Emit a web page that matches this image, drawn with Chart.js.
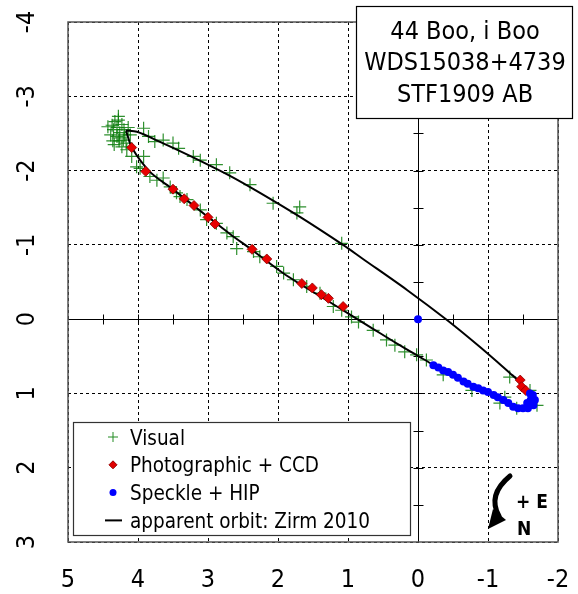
<!DOCTYPE html>
<html>
<head>
<meta charset="utf-8">
<title>44 Boo, i Boo - STF1909 AB</title>
<script src="https://cdn.jsdelivr.net/npm/chart.js@4.4.0/dist/chart.umd.min.js"></script>
<style>
  html, body { margin: 0; padding: 0; background: #fff; }
</style>
</head>
<body>
<canvas id="orbitChart" width="578" height="594"></canvas>
<script>
const visualPts = [
  [4.33,-2.66],[4.28,-2.68],[4.35,-2.55],[4.26,-2.51],[4.30,-2.46],[4.21,-2.41],[4.23,-2.32],[4.16,-2.28],
  [4.09,-2.19],[3.92,-2.19],[4.02,-2.05],[4.37,-2.61],[4.30,-2.58],[4.23,-2.62],[4.19,-2.48],[4.27,-2.40],
  [4.34,-2.35],[4.14,-2.58],[4.43,-2.59],[4.39,-2.48],[4.20,-2.55],[4.27,-2.44],[4.17,-2.37],[4.36,-2.40],
  [4.11,-2.48],[4.28,-2.73],
  [3.92,-2.57],[3.85,-2.46],[3.76,-2.39],[3.64,-2.41],[3.50,-2.37],[3.42,-2.30],[3.21,-2.19],[3.11,-2.14],
  [2.88,-2.08],[2.69,-1.97],[2.40,-1.81],[2.07,-1.56],[1.73,-1.43],[1.69,-1.51],[1.09,-1.02],
  [3.97,-2.03],[3.83,-1.92],[3.73,-1.87],[3.64,-1.90],[3.54,-1.78],[3.45,-1.70],[3.40,-1.65],[3.30,-1.61],
  [3.11,-1.47],[3.02,-1.34],[2.88,-1.29],[2.73,-1.16],[2.64,-1.11],[2.59,-0.95],[2.35,-0.91],[2.26,-0.84],
  [2.02,-0.71],[1.92,-0.62],[1.78,-0.53],[1.59,-0.44],[1.40,-0.35],[1.21,-0.17],[1.09,-0.12],[0.95,-0.03],
  [0.85,0.04],[0.64,0.15],[0.45,0.28],[0.33,0.35],[0.19,0.44],[0.02,0.48],[-0.12,0.55],
  [-0.36,0.75],[-0.77,0.96],[-1.17,1.13],[-1.31,0.78],[-1.24,1.05],[-1.41,1.20],[-1.60,0.96],[-1.70,1.16]
];
const photoPts = [
  [4.09,-2.31],[3.89,-1.99],[3.50,-1.75],[3.34,-1.62],[3.20,-1.53],[3.00,-1.37],[2.90,-1.28],[2.37,-0.94],
  [2.16,-0.81],[1.66,-0.48],[1.51,-0.42],[1.38,-0.33],[1.28,-0.28],[1.07,-0.17],
  [-1.46,0.82],[-1.48,0.91],[-1.54,0.96]
];
const specklePts = [
  [0.00,0.00],
  [-0.22,0.62],[-0.29,0.65],[-0.36,0.69],[-0.43,0.71],[-0.50,0.75],[-0.57,0.79],[-0.65,0.84],[-0.71,0.87],
  [-0.79,0.91],[-0.86,0.93],[-0.93,0.96],[-1.00,0.98],[-1.08,1.02],[-1.14,1.05],[-1.22,1.09],[-1.29,1.13],
  [-1.36,1.18],[-1.43,1.20],[-1.50,1.20],[-1.57,1.20],[-1.65,1.16],[-1.67,1.09],[-1.64,1.02],[-1.60,1.00],
  [-1.61,1.09],[-1.56,1.13]
];
// apparent orbit (Zirm 2010), traced around the ellipse from the north-east end
const orbitPts = [
  [4.171,-2.539],[4.014,-2.522],[3.686,-2.387],[3.257,-2.198],[2.686,-1.929],[2.257,-1.700],[1.686,-1.376],
  [1.071,-0.999],[0.786,-0.810],[0.157,-0.393],[-0.414,0.012],[-0.886,0.376],[-1.314,0.727],[-1.457,0.849],
  [-1.557,0.984],[-1.614,1.105],[-1.557,1.191],[-1.429,1.218],[-1.286,1.144],[-1.071,1.023],[-0.786,0.902],
  [-0.500,0.753],[-0.214,0.612],[-0.029,0.511],[0.300,0.329],[0.614,0.147],[0.971,-0.062],[1.286,-0.244],
  [1.686,-0.473],[1.929,-0.621],[2.371,-0.931],[2.686,-1.147],[3.000,-1.376],[3.500,-1.747],[3.829,-1.983],
  [4.086,-2.306],[4.171,-2.539]
];
const xTicks = [5, 4, 3, 2, 1, 0, -1, -2];
const yTicks = [-4, -3, -2, -1, 0, 1, 2, 3];
const titleLines = ['44 Boo, i Boo', 'WDS15038+4739', 'STF1909 AB'];
const legendLabels = ['Visual', 'Photographic + CCD', 'Speckle + HIP', 'apparent orbit: Zirm 2010'];

const FONT = "'DejaVu Sans Condensed', 'DejaVu Sans', sans-serif";
const toXY = pts => pts.map(p => ({ x: p[0], y: p[1] }));

// zero axes with half-unit ticks, frame, title box, legend, direction arrow
const axesPlugin = {
  id: 'zeroAxes',
  beforeDatasetsDraw(chart) {
    const { ctx, chartArea: a, scales: { x, y } } = chart;
    const x0 = Math.round(x.getPixelForValue(0)) + 0.5;
    const y0 = Math.round(y.getPixelForValue(0)) + 0.5;
    ctx.save();
    ctx.strokeStyle = '#000';
    ctx.lineWidth = 1;
    ctx.setLineDash([]);
    ctx.beginPath();
    ctx.moveTo(a.left, y0); ctx.lineTo(a.right, y0);
    ctx.moveTo(x0, a.top); ctx.lineTo(x0, a.bottom);
    for (let k = xTicks[xTicks.length - 1] * 2 + 1; k < xTicks[0] * 2; k++) {
      const px = Math.round(x.getPixelForValue(k / 2)) + 0.5;
      ctx.moveTo(px, y0 - 5); ctx.lineTo(px, y0 + 5);
    }
    for (let k = yTicks[0] * 2 + 1; k < yTicks[yTicks.length - 1] * 2; k++) {
      const py = Math.round(y.getPixelForValue(k / 2)) + 0.5;
      ctx.moveTo(x0 - 5, py); ctx.lineTo(x0 + 5, py);
    }
    ctx.stroke();
    ctx.restore();
  },
  afterDraw(chart) {
    const { ctx, chartArea: a } = chart;
    ctx.save();
    ctx.strokeStyle = '#555';
    ctx.lineWidth = 1.5;
    ctx.strokeRect(a.left, a.top, a.right - a.left, a.bottom - a.top);

    // title box
    ctx.fillStyle = '#fff';
    ctx.fillRect(356, 6, 217, 113);
    ctx.strokeStyle = '#000';
    ctx.lineWidth = 1.2;
    ctx.strokeRect(356.5, 6.5, 216, 112);
    ctx.fillStyle = '#000';
    ctx.font = '25px ' + FONT;
    ctx.textAlign = 'center';
    ctx.textBaseline = 'alphabetic';
    titleLines.forEach((t, i) => ctx.fillText(t, 465, 38.5 + i * 31.7));

    // legend box
    const lx = a.left + 5, ly = a.bottom - 120;
    ctx.fillStyle = '#fff';
    ctx.fillRect(lx, ly, 337, 114);
    ctx.strokeStyle = '#333';
    ctx.lineWidth = 1.2;
    ctx.strokeRect(lx + 0.5, ly + 0.5, 337, 113);
    ctx.font = '20.5px ' + FONT;
    ctx.textAlign = 'left';
    const mx = lx + 40;
    legendLabels.forEach((t, i) => {
      const cy = ly + 15 + i * 27.8;
      ctx.fillStyle = '#000';
      ctx.fillText(t, lx + 57, cy + 7.5);
      if (i === 0) {
        ctx.strokeStyle = '#228B22'; ctx.lineWidth = 1;
        ctx.beginPath();
        ctx.moveTo(mx - 5, cy); ctx.lineTo(mx + 5, cy);
        ctx.moveTo(mx, cy - 5); ctx.lineTo(mx, cy + 5);
        ctx.stroke();
      } else if (i === 1) {
        ctx.fillStyle = '#e00000'; ctx.strokeStyle = '#900';
        ctx.beginPath();
        ctx.moveTo(mx - 4, cy); ctx.lineTo(mx, cy - 4); ctx.lineTo(mx + 4, cy); ctx.lineTo(mx, cy + 4);
        ctx.closePath(); ctx.fill(); ctx.stroke();
      } else if (i === 2) {
        ctx.fillStyle = '#0000ff';
        ctx.beginPath(); ctx.arc(mx, cy, 3.5, 0, Math.PI * 2); ctx.fill();
      } else {
        ctx.strokeStyle = '#000'; ctx.lineWidth = 2;
        ctx.beginPath(); ctx.moveTo(mx - 8, cy); ctx.lineTo(mx + 9, cy); ctx.stroke();
      }
    });

    // direction arrow, + E / N
    const ax = a.right, ay = a.bottom;
    ctx.strokeStyle = '#000';
    ctx.fillStyle = '#000';
    ctx.lineWidth = 5;
    ctx.lineCap = 'round';
    ctx.beginPath();
    ctx.moveTo(ax - 48, ay - 66);
    ctx.quadraticCurveTo(ax - 71, ay - 47, ax - 59, ay - 26);
    ctx.stroke();
    ctx.beginPath();
    ctx.moveTo(ax - 70, ay - 13);
    ctx.lineTo(ax - 65, ay - 33);
    ctx.lineTo(ax - 52, ay - 22);
    ctx.closePath();
    ctx.fill();
    ctx.font = 'bold 19px ' + FONT;
    ctx.fillText('+ E', ax - 42, ay - 34);
    ctx.fillText('N', ax - 41, ay - 7);
    ctx.restore();
  }
};

const ctx = document.getElementById('orbitChart').getContext('2d');
new Chart(ctx, {
  type: 'scatter',
  data: {
    datasets: [
      {
        label: legendLabels[2],
        data: toXY(specklePts),
        pointStyle: 'circle',
        pointRadius: 4,
        backgroundColor: '#0000ff',
        borderColor: '#0000ff',
        borderWidth: 0,
        order: 0
      },
      {
        label: legendLabels[1],
        data: toXY(photoPts),
        pointStyle: 'rectRot',
        pointRadius: 5,
        backgroundColor: '#e80000',
        borderColor: '#8a0000',
        borderWidth: 0.8,
        order: 1
      },
      {
        label: legendLabels[3],
        data: toXY(orbitPts),
        showLine: true,
        tension: 0.3,
        pointRadius: 0,
        borderColor: '#000',
        borderWidth: 2,
        borderJoinStyle: 'round',
        fill: false,
        order: 2
      },
      {
        label: legendLabels[0],
        data: toXY(visualPts),
        pointStyle: 'cross',
        pointRadius: 6.5,
        borderColor: 'rgba(10,125,10,0.85)',
        borderWidth: 1.2,
        order: 3
      }
    ]
  },
  options: {
    responsive: false,
    animation: false,
    layout: { padding: { top: 22, right: 20, left: 0, bottom: 0 } },
    plugins: {
      legend: { display: false },
      tooltip: { enabled: false }
    },
    scales: {
      x: {
        type: 'linear',
        min: -2, max: 5,
        reverse: true,
        afterBuildTicks: s => { s.ticks = xTicks.map(v => ({ value: v })); },
        afterFit: s => { s.height = 52; s.paddingLeft = 0; s.paddingRight = 0; },
        ticks: { color: '#000', font: { family: FONT, size: 25 }, padding: 23, maxRotation: 0 },
        grid: { color: '#000', lineWidth: 1, drawTicks: false },
        border: { display: false, dash: [3, 3] }
      },
      y: {
        type: 'linear',
        min: -4, max: 3,
        reverse: true,
        afterBuildTicks: s => { s.ticks = yTicks.map(v => ({ value: v })); },
        afterFit: s => { s.width = 68; s.paddingTop = 0; s.paddingBottom = 0; },
        ticks: {
          color: '#000', font: { family: FONT, size: 25 },
          minRotation: 90, maxRotation: 90, crossAlign: 'center', padding: 29
        },
        grid: { color: '#000', lineWidth: 1, drawTicks: false },
        border: { display: false, dash: [3, 3] }
      }
    }
  },
  plugins: [axesPlugin]
});
</script>
</body>
</html>
